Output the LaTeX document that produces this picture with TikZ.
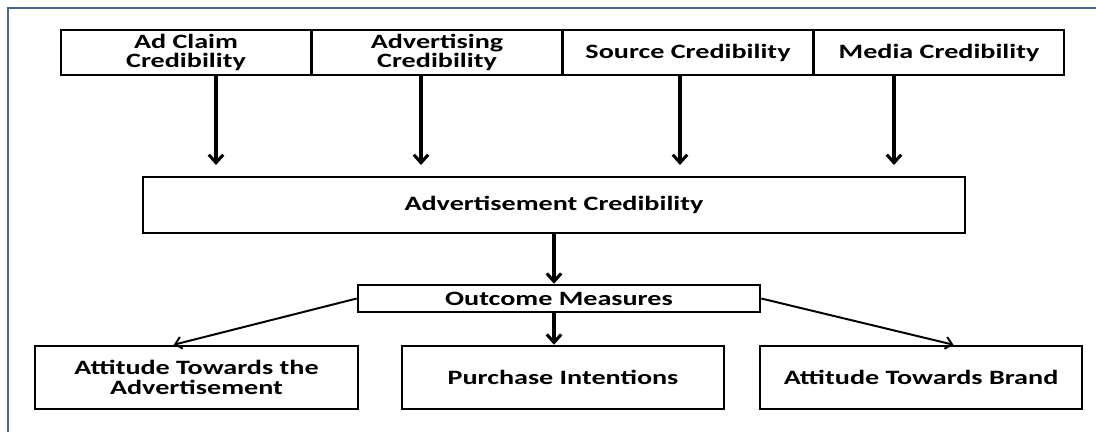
\documentclass[tikz,border=0pt]{standalone}
\usepackage{fontspec}
\setmainfont{Carlito}[FakeStretch=1.38]
\usepackage{xcolor}
\usetikzlibrary{arrows.meta}
\usetikzlibrary{positioning, calc}
\definecolor{framecol}{RGB}{72,102,132}

\begin{document}
\begin{tikzpicture}
		\tikzset{
			myarrow/.tip={Straight Barb[length=2mm, width=3.6mm]},
			thinarrow/.tip={Straight Barb[length=1.6mm, width=3mm]},
			box/.style={draw, line width=1.8pt, fill=white, align=center, inner sep=0pt,
				font=\fontsize{14.5}{14}\selectfont\bfseries},
			toprow/.style={box, minimum width=6.25cm, minimum height=1.125cm},
			botrow/.style={box, minimum width=8.05cm, minimum height=1.575cm},
		}
		\useasboundingbox (0,0) rectangle (27.4,-10.8);
		\draw[line width=2pt, framecol] (0.2,-10.8) -- (0.2,-0.2) -- (27.4,-0.2);
		% kinds of credibility
		\node[toprow] (adclaim) at (4.65,-1.3125) {Ad Claim\\Credibility};
		\node[toprow] (advert) at (10.925,-1.3125) {Advertising\\Credibility};
		\node[toprow] (source) at (17.2,-1.3125) {Source Credibility};
		\node[toprow] (media) at (23.475,-1.3125) {Media Credibility};
		\node[box, minimum width=20.55cm, minimum height=1.4cm] (adcred) at (13.85,-5.125) {Advertisement Credibility};
		\coordinate (a1) at (5.4,-4.125);
		\coordinate (a2) at (10.525,-4.125);
		\coordinate (a3) at (17.0,-4.125);
		\coordinate (a4) at (22.35,-4.125);
		\draw[line width=2.2pt, -myarrow] (adclaim.south -| a1) -- (a1);
		\draw[line width=2.2pt, -myarrow] (advert.south -| a2) -- (a2);
		\draw[line width=2.2pt, -myarrow] (source.south -| a3) -- (a3);
		\draw[line width=2.2pt, -myarrow] (media.south -| a4) -- (a4);
		% outcomes
		\node[box, minimum width=10.05cm, minimum height=0.675cm] (outcome) at (13.975,-7.4625) {Outcome Measures};
		\node[botrow, minimum width=8.075cm] (attad) at (4.9125,-9.4375) {Attitude Towards the\\Advertisement};
		\node[botrow] (purchase) at (14.075,-9.4375) {Purchase Intentions};
		\node[botrow] (attbrand) at (23.025,-9.4375) {Attitude Towards Brand};
		\draw[line width=2.2pt, -myarrow] (adcred.south) -- (adcred.south |- outcome.north);
		\draw[line width=2.2pt, -myarrow] (adcred.south |- outcome.south) -- (adcred.south |- purchase.north);
		\draw[line width=1.4pt, -thinarrow] (outcome.west) -- ($(attad.north west)!0.43!(attad.north east)$);
		\draw[line width=1.4pt, -thinarrow] (outcome.east) -- ($(attbrand.north west)!0.6!(attbrand.north east)$);
	\end{tikzpicture}
\end{document}
